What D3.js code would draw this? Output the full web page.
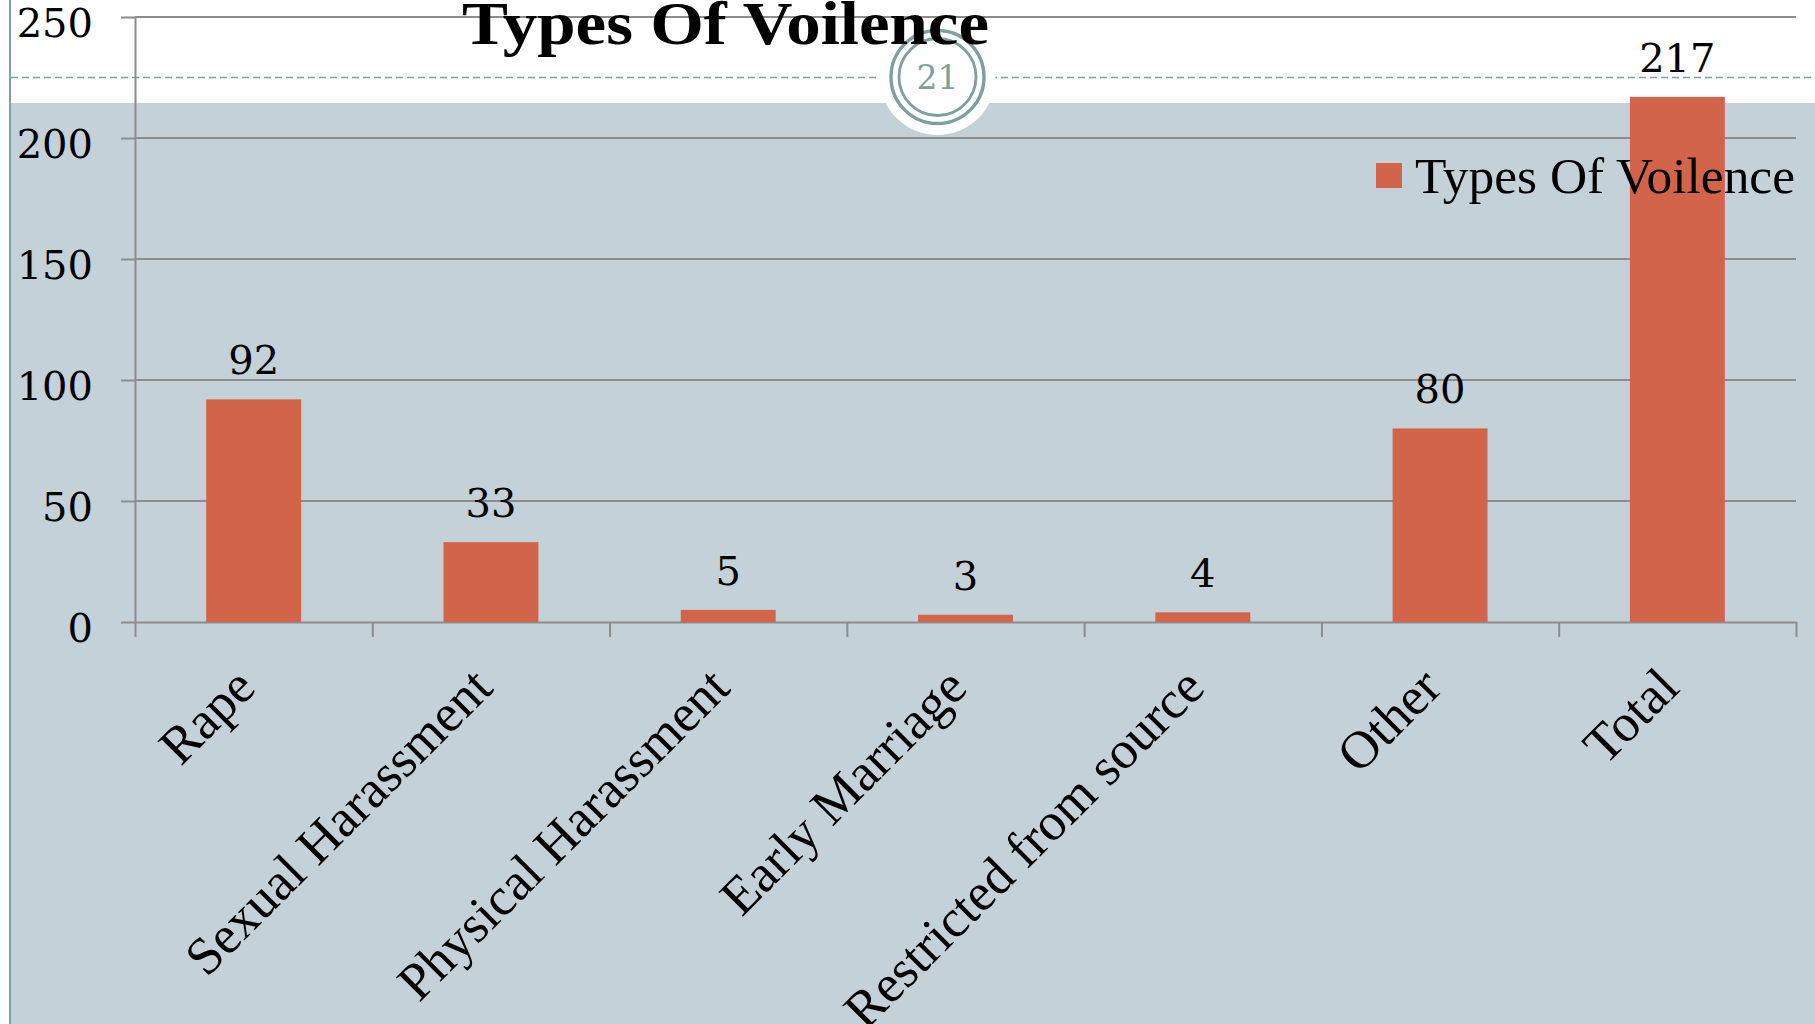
<!DOCTYPE html>
<html>
<head>
<meta charset="utf-8">
<script src="https://cdn.jsdelivr.net/npm/d3@7"></script>
<style>
  html, body { margin: 0; padding: 0; background: #ffffff; }
  svg { display: block; }
</style>
</head>
<body>
<svg id="chart" width="1815" height="1024"></svg>
<script>
// ---- data ----
const categories = ["Rape", "Sexual Harassment", "Physical Harassment", "Early Marriage", "Restricted from source", "Other", "Total"];
const values = [92, 33, 5, 3, 4, 80, 217];
const yTicks = [0, 50, 100, 150, 200, 250];
const seriesName = "Types Of Voilence";
const titleText = "Types Of Voilence";
const pageNumber = "21";

// ---- styles ----
const W = 1815, H = 1024;
const plotLeft = 135, plotRight = 1796, plotTop = 17, plotBottom = 622;
const barColor = "#d26449";
const panelColor = "#c5d1d8";
const gridColor = "#8c8c8c";
const teal = "#7f9e9e";
const serif = "'Liberation Serif', 'Times New Roman', serif";
const numFont = "'DejaVu Serif', Georgia, serif";

const svg = d3.select("#chart");

// background
svg.append("rect").attr("x", 0).attr("y", 0).attr("width", W).attr("height", H).attr("fill", "#ffffff");
svg.append("rect").attr("x", 10).attr("y", 103).attr("width", W - 10).attr("height", H - 103).attr("fill", panelColor);

// left page border
svg.append("line").attr("x1", 10).attr("x2", 10).attr("y1", 0).attr("y2", H)
  .attr("stroke", teal).attr("stroke-width", 2);

// dashed rule
svg.append("line").attr("x1", 11).attr("x2", W).attr("y1", 77.5).attr("y2", 77.5)
  .attr("stroke", teal).attr("stroke-width", 1.6).attr("stroke-dasharray", "7,4");

// page number badge
const badge = svg.append("g").attr("transform", "translate(937.5,77)");
badge.append("circle").attr("r", 58).attr("fill", "#ffffff");
badge.append("circle").attr("r", 46.5).attr("fill", "none").attr("stroke", teal).attr("stroke-width", 3.4);
badge.append("circle").attr("r", 38.5).attr("fill", "none").attr("stroke", teal).attr("stroke-width", 2.8);
badge.append("text").attr("x", 0).attr("y", 12).attr("text-anchor", "middle")
  .attr("font-family", numFont).attr("font-size", 33).attr("fill", teal).text(pageNumber);

// scales
const x = d3.scaleBand().domain(categories).range([plotLeft, plotRight]).paddingInner(0.6).paddingOuter(0.3);
const xb = d3.scaleLinear().domain([0, categories.length]).range([plotLeft, plotRight]);
const y = d3.scaleLinear().domain([0, 250]).range([plotBottom, plotTop]);

// gridlines
svg.append("g").selectAll("line").data(yTicks.filter(d => d > 0)).join("line")
  .attr("x1", plotLeft).attr("x2", plotRight)
  .attr("y1", d => y(d)).attr("y2", d => y(d))
  .attr("stroke", gridColor).attr("stroke-width", 2);

// y axis
const yAxis = svg.append("g").attr("transform", `translate(${plotLeft},0)`)
  .call(d3.axisLeft(y).tickValues(yTicks).tickSize(14).tickSizeOuter(0).tickPadding(28).tickFormat(d3.format("d")));
yAxis.select(".domain").attr("stroke", gridColor).attr("stroke-width", 2);
yAxis.selectAll(".tick line").attr("stroke", gridColor).attr("stroke-width", 2);
yAxis.selectAll(".tick text").attr("font-family", numFont).attr("font-size", 40).attr("fill", "#000")
  .attr("dy", 19);

// x axis (boundary ticks)
const xAxis = svg.append("g").attr("transform", `translate(0,${plotBottom})`)
  .call(d3.axisBottom(xb).tickValues(d3.range(categories.length + 1)).tickSize(15).tickSizeOuter(0).tickFormat(""));
xAxis.select(".domain").attr("stroke", gridColor).attr("stroke-width", 2);
xAxis.selectAll(".tick line").attr("stroke", gridColor).attr("stroke-width", 2);

// category labels
const xLab = svg.append("g").attr("transform", `translate(0,${plotBottom})`)
  .call(d3.axisBottom(x).tickSize(0).tickSizeOuter(0));
xLab.select(".domain").remove();
xLab.selectAll(".tick text")
  .attr("font-family", serif).attr("font-size", 53).attr("fill", "#000")
  .attr("text-anchor", "end").attr("x", 0).attr("y", 0).attr("dy", 0)
  .attr("transform", "translate(4,68) rotate(-45)");

// bars
svg.append("g").selectAll("rect").data(values).join("rect")
  .attr("x", (d, i) => x(categories[i]))
  .attr("width", x.bandwidth())
  .attr("y", d => y(d))
  .attr("height", d => y(0) - y(d))
  .attr("fill", barColor);

// legend
const legend = svg.append("g");
legend.append("rect").attr("x", 1376).attr("y", 163).attr("width", 26).attr("height", 25).attr("fill", barColor);
legend.append("text").attr("x", 1415).attr("y", 193)
  .attr("font-family", serif).attr("font-size", 50).attr("fill", "#000")
  .attr("textLength", 380).attr("lengthAdjust", "spacingAndGlyphs").text(seriesName);

// value labels
svg.append("g").selectAll("text").data(values).join("text")
  .attr("x", (d, i) => x(categories[i]) + x.bandwidth() / 2)
  .attr("y", d => y(d) - 25)
  .attr("text-anchor", "middle")
  .attr("font-family", numFont).attr("font-size", 40).attr("fill", "#000")
  .text(d => d);

// title
svg.append("text").attr("x", 462).attr("y", 44)
  .attr("font-family", serif).attr("font-weight", "bold").attr("font-size", 62).attr("fill", "#000")
  .attr("textLength", 527).attr("lengthAdjust", "spacingAndGlyphs").text(titleText);
</script>
</body>
</html>
